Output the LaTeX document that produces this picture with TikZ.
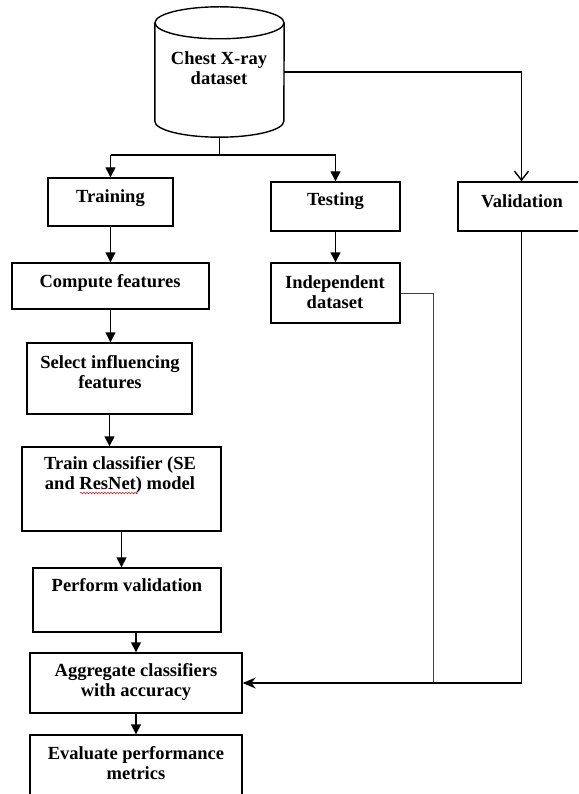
\documentclass[tikz,border=0pt]{standalone}
\usepackage{fontspec}
\setmainfont{Liberation Serif}
\usetikzlibrary{arrows.meta,decorations.pathmorphing}

\begin{document}
\begin{tikzpicture}[x=1pt,y=-1pt,
  blk/.style={draw, line width=1.4pt, inner sep=0pt},
  lbl/.style={font=\bfseries\fontsize{18.5}{20}\selectfont, align=center, inner sep=0pt},
  ln/.style={line width=1.4pt},
  arr/.style={line width=1.4pt, -{Triangle[length=10pt,width=10pt]}}]
\clip (0,0) rectangle (578,794);
% dataset cylinder
\node[minimum width=129pt, minimum height=130pt, inner sep=0pt] (db) at (219.5,72) {};
\draw[ln] ([yshift=-16pt]db.north west) -- ([yshift=16pt]db.south west)
  arc (180:360:64.5pt and 16pt) -- ([yshift=-16pt]db.north east);
\draw[ln] ([yshift=-16pt]db.north) ellipse (64.5pt and 16pt);
\node[lbl] (db-t) at (219,68) {Chest X-ray\\dataset};
% boxes
\node[blk, minimum width=125pt, minimum height=48pt] (train) at (110.5,202) {};
\node[blk, minimum width=129pt, minimum height=49pt] (test) at (335.5,206.5) {};
\node[blk, minimum width=127pt, minimum height=49pt] (valid) at (521.5,206.5) {};
\node[blk, minimum width=197pt, minimum height=46pt] (comp) at (110.5,286) {};
\node[blk, minimum width=129pt, minimum height=60pt] (indep) at (335.5,293) {};
\node[blk, minimum width=165pt, minimum height=71pt] (sel) at (109.5,378.5) {};
\node[blk, minimum width=199pt, minimum height=84pt] (trn) at (121.5,489) {};
\node[blk, minimum width=188pt, minimum height=64pt] (perf) at (127,600) {};
\node[blk, minimum width=212pt, minimum height=60pt] (aggr) at (136,683) {};
\node[blk, minimum width=212pt, minimum height=70pt] (eval) at (136,770) {};
% texts
\node[lbl] (train-t) at (110.5,198) {Training};
\node[lbl] (test-t) at (335.5,201) {Testing};
\node[lbl] (valid-t) at (522,201) {Validation};
\node[lbl] (comp-t) at (110,283) {Compute features};
\node[lbl] (indep-t) at (335,292) {Independent\\dataset};
\node[lbl] (sel-t) at (110,372) {Select influencing\\features};
\node[lbl] (trn-t) at (120,475) {Train classifier (SE\\and ResNet) model};
\node[lbl] (perf-t) at (127,585) {Perform validation};
\node[lbl] (aggr-t) at (136,682) {Aggregate classifiers\\with accuracy};
\node[lbl] (eval-t) at (136,763) {Evaluate performance\\metrics};
\draw[red, line width=0.5pt, decorate, decoration={snake, amplitude=0.7pt, segment length=3pt}]
  (80,493) -- (138,493);
% connectors
\path (db.south) ++(0,18) coordinate (split);
\draw[ln] (db.south) -- (split);
\draw[ln] (train.north |- split) -- (test.north |- split);
\draw[arr] (train.north |- split) -- (train.north);
\draw[arr] (test.north |- split) -- (test.north);
\draw[ln, -{Straight Barb[length=9pt,width=14pt]}] (db.east) -- (db.east -| valid.north) -- (valid.north);
\draw[arr] (train) -- (comp);
\draw[arr] (comp.south) -- (comp.south |- sel.north);
\draw[arr] (sel.south) -- (sel.south |- trn.north);
\draw[arr] (trn.south) -- (trn.south |- perf.north);
\draw[arr] (aggr.north |- perf.south) -- (aggr.north);
\draw[arr] (aggr) -- (eval);
\draw[arr] (test) -- (indep);
\draw[line width=1pt, black!75] (indep.east) -- ++(33,0) coordinate (jn-top) -- (jn-top |- aggr.east);
\draw[ln, -{Stealth[length=13pt,width=11pt]}] (valid.south) -- (valid.south |- aggr.east) -- (aggr.east);
\end{tikzpicture}
\end{document}
